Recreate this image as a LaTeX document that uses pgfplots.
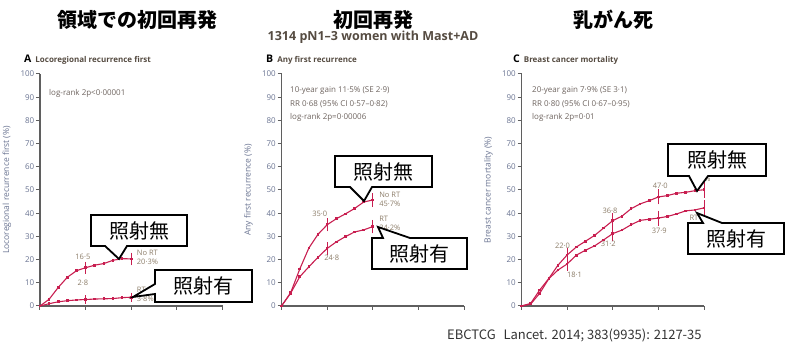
\documentclass[border=0pt]{standalone}
\usepackage{fontspec}
\setmainfont{Open Sans}
\newfontfamily\jp{Noto Sans CJK JP}
\usepackage{pgfplots}
\pgfplotsset{compat=1.18}
\definecolor{crimson}{RGB}{200,30,80}
\definecolor{axisgray}{RGB}{95,95,95}
\definecolor{ticktext}{RGB}{105,115,145}
\definecolor{valtext}{RGB}{140,125,105}
\definecolor{anntext}{RGB}{110,100,95}
\definecolor{headtext}{RGB}{85,75,65}
\pgfplotsset{
  panel/.style={
    scale only axis, width=182.5pt, height=232pt,
    xmin=0, xmax=20, ymin=0, ymax=100,
    axis x line=bottom, axis y line=left,
    axis line style={-, draw=axisgray, line width=1.2pt},
    xtick={0,5,10,15,20}, xticklabels={},
    ytick={0,10,...,100},
    tick align=outside, major tick length=4pt,
    tick style={draw=axisgray, line width=1pt},
    yticklabel style={font=\fontsize{8}{8}\selectfont, text=ticktext, inner sep=1.5pt},
    /pgf/number format/assume math mode=true,
    clip=false, anchor=origin,
    every axis y label/.style={at={(axis description cs:-0.181,0.5)}, rotate=90, anchor=center,
      font=\fontsize{8.5}{9}\selectfont, text=ticktext},
  },
  surv/.style={crimson, line width=1.1pt, mark=square*, mark size=0.8pt, mark options={solid}},
  ebar/.style={draw=none, mark=none, forget plot,
    error bars/.cd, y dir=both, y explicit,
    error bar style={draw=crimson, line width=0.9pt},
    error mark options={draw=crimson, line width=0.9pt, mark size=2.2pt}},
}
\newcommand{\vl}{\fontsize{7.5}{9}\selectfont}
\begin{document}
\begin{tikzpicture}
\path[use as bounding box] (0pt,0pt) rectangle (786pt,352pt);

% Panel A
\begin{axis}[panel, at={(40pt,46pt)}, ylabel={Locoregional recurrence first (\%)}]
\addplot[surv] coordinates {(0,0)(1,2.9)(2,8.0)(3,12.4)(4,15.2)(5,16.5)(6,17.6)(7,18.3)(8,19.7)(9,20.4)(10,20.3)};
\addplot[surv] coordinates {(0,0)(1,1.0)(2,1.8)(3,2.3)(4,2.6)(5,2.8)(6,3.0)(7,3.1)(8,3.2)(9,3.6)(10,3.8)};
\addplot[ebar] coordinates {(5,16.5) +- (0,1.6) (10,20.3) +- (0,1.8)};
\addplot[ebar] coordinates {(5,2.8) +- (0,0.8) (10,3.8) +- (0,1.0)};
\node[font=\vl, text=valtext] at (axis cs:4.7,21.1) {16·5};
\node[font=\vl, text=valtext] at (axis cs:4.7,9.9) {2·8};
\node[font=\vl, text=valtext, anchor=west, align=left, inner sep=0pt] at (axis cs:10.6,20.9) {No RT\\20·3\%};
\node[font=\vl, text=valtext, anchor=west, align=left, inner sep=0pt] at (axis cs:10.6,5.0) {RT\\3·8\%};
\end{axis}

% Panel B
\begin{axis}[panel, at={(281.5pt,46pt)}, ylabel={Any first recurrence (\%)}]
\addplot[surv] coordinates {(0,0)(1,5.7)(2,15.9)(3,25.0)(4,30.9)(5,35.0)(6,37.6)(7,39.7)(8,42.0)(9,44.8)(10,45.7)};
\addplot[surv] coordinates {(0,0)(1,5.5)(2,12.6)(3,16.9)(4,21.0)(5,24.8)(6,27.6)(7,29.9)(8,31.9)(9,32.8)(10,34.2)};
\addplot[ebar] coordinates {(5,35.0) +- (0,1.9) (10,45.7) +- (0,2.0)};
\addplot[ebar] coordinates {(5,24.8) +- (0,1.8) (10,34.2) +- (0,2.0)};
\node[font=\vl, text=valtext] at (axis cs:4.2,39.7) {35·0};
\node[font=\vl, text=valtext] at (axis cs:5.5,20.7) {24·8};
\node[font=\vl, text=valtext, anchor=west, align=left, inner sep=0pt] at (axis cs:10.7,45.9) {No RT\\45·7\%};
\node[font=\vl, text=valtext, anchor=west, align=left, inner sep=0pt] at (axis cs:10.7,35.6) {RT\\34·2\%};
\end{axis}

% Panel C
\begin{axis}[panel, at={(521.5pt,46pt)}, ylabel={Breast cancer mortality (\%)}]
\addplot[surv] coordinates {(0,0)(1,1.1)(2,6.9)(3,11.9)(4,17.6)(5,22.0)(6,25.4)(7,27.9)(8,30.4)(9,33.6)(10,36.8)(11,38.7)(12,41.9)(13,44.0)(14,45.4)(15,47.0)(16,47.6)(17,48.6)(18,49.0)(19,49.7)(20,50.1)};
\addplot[surv] coordinates {(0,0)(1,0.8)(2,5.5)(3,11.8)(4,15.5)(5,18.1)(6,21.9)(7,24.0)(8,25.9)(9,28.5)(10,31.2)(11,32.7)(12,35.0)(13,36.9)(14,37.4)(15,37.9)(16,38.6)(17,39.7)(18,41.0)(19,41.4)(20,42.3)};
\addplot[ebar] coordinates {(5,22.0) +- (0,2.0) (10,36.8) +- (0,2.2) (15,47.0) +- (0,2.3) (20,50.1) +- (0,2.5)};
\addplot[ebar] coordinates {(5,18.1) +- (0,2.0) (10,31.2) +- (0,2.2) (15,37.9) +- (0,2.3) (20,42.3) +- (0,2.5)};
\node[font=\vl, text=valtext] at (axis cs:4.5,25.9) {22·0};
\node[font=\vl, text=valtext] at (axis cs:5.8,13.4) {18·1};
\node[font=\vl, text=valtext] at (axis cs:9.7,40.9) {36·8};
\node[font=\vl, text=valtext] at (axis cs:9.5,26.7) {31·2};
\node[font=\vl, text=valtext] at (axis cs:15.2,51.7) {47·0};
\node[font=\vl, text=valtext] at (axis cs:15.1,32.3) {37·9};
\node[font=\vl, text=valtext, anchor=west, align=left, inner sep=0pt] at (axis cs:18.4,56.7) {No RT\\50·1\%};
\node[font=\vl, text=valtext, anchor=west, align=left, inner sep=0pt] at (axis cs:18.4,36.0) {RT\\42·3\%};
\end{axis}

\begin{scope}[x=1pt,y=1pt]
% Titles
\node[font=\jp\bfseries\fontsize{20}{22}\selectfont] at (137.5,332) {領域での初回再発};
\node[font=\jp\bfseries\fontsize{20}{22}\selectfont] at (373,332) {初回再発};
\node[font=\jp\bfseries\fontsize{20}{22}\selectfont] at (613,332) {乳がん死};
\node[font=\bfseries\fontsize{12.5}{14}\selectfont, text=headtext] at (373,315) {1314 pN1–3 women with Mast+AD};
% Panel headers
\node[anchor=west, inner sep=0pt] at (24,292) {\fontsize{10.5}{11}\selectfont\bfseries A\hspace{4pt}\color{headtext}\fontsize{8}{9}\selectfont Locoregional recurrence first};
\node[anchor=west, inner sep=0pt] at (266,292) {\fontsize{10.5}{11}\selectfont\bfseries B\hspace{4pt}\color{headtext}\fontsize{8}{9}\selectfont Any first recurrence};
\node[anchor=west, inner sep=0pt] at (513,292) {\fontsize{10.5}{11}\selectfont\bfseries C\hspace{4pt}\color{headtext}\fontsize{8}{9}\selectfont Breast cancer mortality};
% annotations
\begin{scope}[every node/.style={anchor=west, inner sep=0pt, font=\fontsize{8}{9}\selectfont, text=anntext}]
\node at (49,259) {log-rank 2p<0·00001};
\node at (290,261) {10-year gain 11·5\% (SE 2·9)};
\node at (290,248) {RR 0·68 (95\% CI 0·57–0·82)};
\node at (290,235) {log-rank 2p=0·00006};
\node at (532,261) {20-year gain 7·9\% (SE 3·1)};
\node at (532,248) {RR 0·80 (95\% CI 0·67–0·95)};
\node at (532,235) {log-rank 2p=0·01};
\end{scope}
% callouts
\begin{scope}[line width=1.8pt, draw=black, fill=white, line join=miter]
\filldraw (91,137) -- (187,137) -- (187,106) -- (127,106) -- (119,93) -- (105,106) -- (91,106) -- cycle;
\filldraw (155,82) -- (252,82) -- (252,50) -- (155,50) -- (155,58) -- (133,55) -- (155,68) -- cycle;
\filldraw (335,196) -- (432,196) -- (432,165) -- (372,165) -- (364,151) -- (350,165) -- (335,165) -- cycle;
\filldraw (372,114) -- (383,114) -- (378,125) -- (410,114) -- (467,114) -- (467,83) -- (372,83) -- cycle;
\filldraw (668,208) -- (766,208) -- (766,176) -- (708,176) -- (697,161) -- (689,176) -- (668,176) -- cycle;
\filldraw (688,129) -- (703,129) -- (697,139) -- (722,129) -- (784,129) -- (784,98) -- (688,98) -- cycle;
\end{scope}
\begin{scope}[every node/.style={font=\jp\fontsize{20}{22}\selectfont}]
\node at (139,121.5) {照射無};
\node at (203.5,66) {照射有};
\node at (383.5,180.5) {照射無};
\node at (419.5,98.5) {照射有};
\node at (717,192) {照射無};
\node at (736,113.5) {照射有};
\end{scope}
% footer
\node[anchor=west, inner sep=0pt, font=\jp\fontsize{13}{14}\selectfont, text=black!80] at (447,17) {EBCTCG\hspace{0.6em}Lancet. 2014; 383(9935): 2127-35};
\end{scope}
\end{tikzpicture}
\end{document}
